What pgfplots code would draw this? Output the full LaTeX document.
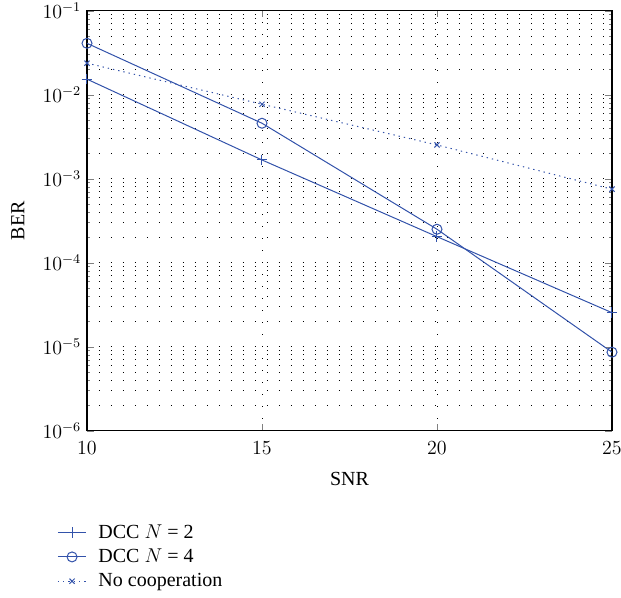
\documentclass[border=0pt]{standalone}
\usepackage{pgfplots}
\pgfplotsset{compat=1.18}
\usepackage{fontspec}
\setmainfont{Liberation Serif}
\definecolor{mblue}{RGB}{50,82,170}
\begin{document}
\begin{tikzpicture}[font=\large]
\begin{axis}[
  name=ax,
  scale only axis,
  width=315pt, height=252pt,
  xmin=10, xmax=25, ymin=1e-6, ymax=1e-1,
  ymode=log,
  xtick={10,15,20,25},
  ytick={1e-6,1e-5,1e-4,1e-3,1e-2,1e-1},
  tick align=inside,
  tick pos=both,
  axis line style={line width=0.8pt},
  major tick length=4pt, minor tick length=2pt,
  xmajorgrids, ymajorgrids, yminorgrids,
  major grid style={black, line width=0.5pt, dash pattern=on 0.6pt off 6.6pt},
  minor grid style={black, line width=0.5pt, dash pattern=on 0.6pt off 6.6pt},
  xlabel={SNR}, ylabel={BER},
  tick label style={font=\large},
  xticklabel style={yshift=-3pt},
  xlabel style={yshift=-4pt},
  ylabel style={yshift=4pt},
  label style={font=\large},
  legend cell align=left,
  legend style={draw=none, fill=none, inner sep=0pt, at={(rel axis cs:0,0)}, anchor=north west, xshift=-18pt, yshift=-54pt, row sep=1pt, font=\large},
]
\addplot[mblue, line width=0.6pt, mark=+, mark size=3.2pt] coordinates {(10,1.53e-2) (15,1.67e-3) (20,2.04e-4) (25,2.54e-5)};
\addlegendentry{\hspace{5pt}DCC $N$ = 2}
\addplot[mblue, line width=0.6pt, mark=o, mark size=3pt] coordinates {(10,4.09e-2) (15,4.57e-3) (20,2.5e-4) (25,8.6e-6)};
\addlegendentry{\hspace{5pt}DCC $N$ = 4}
\addplot[mblue, line width=0.6pt, dash pattern=on 0.8pt off 2.4pt, mark=x, mark size=2.2pt, mark options={solid}] coordinates {(10,2.37e-2) (15,7.7e-3) (20,2.52e-3) (25,7.5e-4)};
\addlegendentry{\hspace{5pt}No cooperation}
\end{axis}
\pgfresetboundingbox
\path[use as bounding box] ([xshift=-52.2pt,yshift=-100.4pt]ax.south west) rectangle ([xshift=320.4pt,yshift=258.4pt]ax.south west);
\end{tikzpicture}
\end{document}
